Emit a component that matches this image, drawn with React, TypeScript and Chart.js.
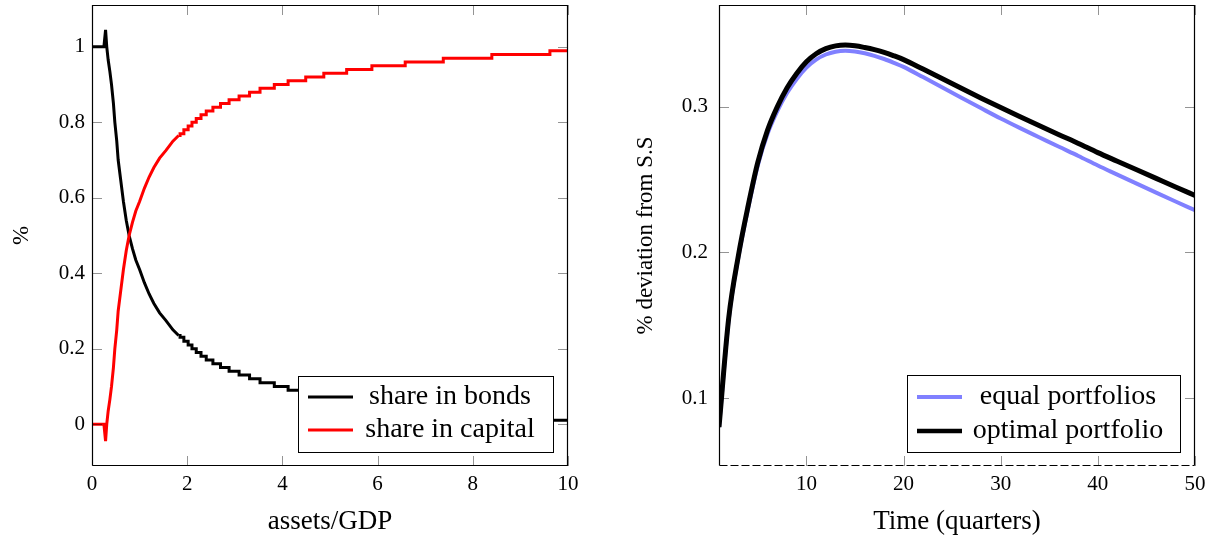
import React, { useEffect, useRef } from "react";
import { Chart, registerables } from "chart.js";

Chart.register(...registerables);

const FONT = "'Liberation Serif', 'Times New Roman', serif";

// ---------- Left chart: portfolio shares vs assets/GDP ----------
// smooth part of the curves
const smoothX = [0, 0.25, 0.285, 0.31, 0.34, 0.375, 0.41, 0.45, 0.48, 0.52, 0.55, 0.6, 0.66, 0.72, 0.78, 0.85, 0.92, 1.0, 1.1, 1.2, 1.3, 1.42, 1.55, 1.7, 1.82];
const smoothCapital = [0, 0, -0.045, 0.0, 0.035, 0.065, 0.1, 0.15, 0.2, 0.25, 0.3, 0.35, 0.41, 0.46, 0.5, 0.535, 0.565, 0.59, 0.625, 0.655, 0.68, 0.705, 0.725, 0.75, 0.765];
const smoothBonds = [1, 1, 1.045, 1.0, 0.965, 0.935, 0.9, 0.85, 0.8, 0.75, 0.7, 0.65, 0.59, 0.54, 0.5, 0.465, 0.435, 0.41, 0.375, 0.345, 0.32, 0.295, 0.275, 0.25, 0.235];
// staircase part (x where each 0.01 level begins)
const stepX = [1.82, 1.85, 1.93, 2.02, 2.1, 2.19, 2.29, 2.4, 2.54, 2.7, 2.88, 3.09, 3.31, 3.53, 3.83, 4.12, 4.49, 4.87, 5.35, 5.88, 6.58, 7.38, 8.4, 9.62, 10];
const stepCapital = [0.765, 0.77, 0.78, 0.79, 0.8, 0.81, 0.82, 0.83, 0.84, 0.85, 0.86, 0.87, 0.88, 0.89, 0.9, 0.91, 0.92, 0.93, 0.94, 0.95, 0.96, 0.97, 0.98, 0.99, 0.99];
const stepBonds = [0.235, 0.23, 0.22, 0.21, 0.2, 0.19, 0.18, 0.17, 0.16, 0.15, 0.14, 0.13, 0.12, 0.11, 0.1, 0.09, 0.08, 0.07, 0.06, 0.05, 0.04, 0.03, 0.02, 0.01, 0.01];
const leftLabels = ["share in bonds", "share in capital"];

// ---------- Right chart: impulse response ----------
const quarters = [1, 2, 3, 4, 5, 6, 7, 8, 9, 10, 11, 12, 13, 14, 15, 16, 17, 18, 19, 20, 22, 24, 26, 28, 30, 32, 34, 36, 38, 40, 42, 44, 46, 48, 50];
const equalPortfolios = [0.08, 0.154, 0.197, 0.2305, 0.26, 0.2815, 0.297, 0.3095, 0.3192, 0.327, 0.3325, 0.336, 0.3379, 0.3385, 0.338, 0.3368, 0.3351, 0.3329, 0.3303, 0.3275, 0.3205, 0.3133, 0.3061, 0.299, 0.292, 0.2854, 0.279, 0.2726, 0.2663, 0.2597, 0.2535, 0.2473, 0.2411, 0.235, 0.229];
const optimalPortfolio = [0.08, 0.155, 0.198, 0.232, 0.262, 0.284, 0.3, 0.313, 0.323, 0.331, 0.3365, 0.34, 0.3419, 0.3425, 0.342, 0.3408, 0.3393, 0.3374, 0.3351, 0.3325, 0.326, 0.3193, 0.3126, 0.306, 0.2995, 0.2932, 0.287, 0.2809, 0.2749, 0.2686, 0.2627, 0.2568, 0.2509, 0.245, 0.2392];
const rightLabels = ["equal portfolios", "optimal portfolio"];

const pts = (xs: number[], ys: number[]) => xs.map((x, i) => ({ x, y: ys[i] }));
const fmt = (v: number) => String(Number(v.toFixed(3)));

const pgfPlugin = {
  id: "pgf",
  afterDatasetsDraw(chart: any, _args: any, opts: any) {
    const { ctx, chartArea: a, scales } = chart;
    ctx.save();
    // inner tick marks on all four sides
    ctx.strokeStyle = "rgba(0,0,0,0.42)";
    ctx.lineWidth = 1;
    const L = 10;
    ctx.beginPath();
    scales.x.ticks.forEach((t: any) => {
      const p = Math.round(scales.x.getPixelForValue(t.value)) + 0.5;
      ctx.moveTo(p, a.bottom);
      ctx.lineTo(p, a.bottom - L);
      ctx.moveTo(p, a.top);
      ctx.lineTo(p, a.top + L);
    });
    scales.y.ticks.forEach((t: any) => {
      const p = Math.round(scales.y.getPixelForValue(t.value)) + 0.5;
      ctx.moveTo(a.left, p);
      ctx.lineTo(a.left + L, p);
      ctx.moveTo(a.right, p);
      ctx.lineTo(a.right - L, p);
    });
    ctx.stroke();
    // frame
    ctx.strokeStyle = "#000";
    ctx.lineWidth = 1.2;
    const l = a.left + 0.5, r = a.right - 0.5, t = a.top + 0.5, b = a.bottom - 0.5;
    ctx.beginPath();
    ctx.moveTo(l, b);
    ctx.lineTo(l, t);
    ctx.lineTo(r, t);
    ctx.lineTo(r, b);
    if (!opts.dashedBottom) ctx.lineTo(l, b);
    ctx.stroke();
    if (opts.dashedBottom) {
      ctx.setLineDash([8, 3]);
      ctx.beginPath();
      ctx.moveTo(l, b);
      ctx.lineTo(r, b);
      ctx.stroke();
      ctx.setLineDash([]);
    }
    // legend box
    const lg = opts.legend;
    const bx = a.right - lg.right - lg.w;
    const by = a.bottom - lg.bottom - lg.h;
    ctx.fillStyle = "#fff";
    ctx.fillRect(bx, by, lg.w, lg.h);
    ctx.strokeStyle = "#000";
    ctx.lineWidth = 1;
    ctx.strokeRect(Math.round(bx) + 0.5, Math.round(by) + 0.5, lg.w, lg.h);
    ctx.font = `${lg.size}px ${FONT}`;
    ctx.textAlign = "center";
    ctx.textBaseline = "middle";
    lg.items.forEach((it: any, i: number) => {
      const cy = by + lg.rows[i];
      ctx.strokeStyle = it.color;
      ctx.lineWidth = it.width;
      ctx.beginPath();
      ctx.moveTo(bx + 10, cy);
      ctx.lineTo(bx + 55, cy);
      ctx.stroke();
      ctx.fillStyle = "#000";
      ctx.fillText(it.label, bx + lg.textCenter, cy);
    });
    ctx.restore();
  },
};

const tickFont = { family: FONT, size: 21 };
const noGrid = { display: false, drawTicks: false };

function LeftChart() {
  const ref = useRef<HTMLCanvasElement>(null);
  useEffect(() => {
    const chart = new Chart(ref.current!, {
      type: "line",
      data: {
        datasets: [
          { label: leftLabels[1], data: pts(smoothX, smoothCapital), borderColor: "#ff0000", borderWidth: 3, pointRadius: 0, tension: 0, order: 0 },
          { label: leftLabels[1], data: pts(stepX, stepCapital), borderColor: "#ff0000", borderWidth: 3, pointRadius: 0, stepped: "before", order: 0 },
          { label: leftLabels[0], data: pts(smoothX, smoothBonds), borderColor: "#000", borderWidth: 3, pointRadius: 0, tension: 0, order: 1 },
          { label: leftLabels[0], data: pts(stepX, stepBonds), borderColor: "#000", borderWidth: 3, pointRadius: 0, stepped: "before", order: 1 },
        ],
      },
      options: {
        animation: false,
        responsive: false,
        devicePixelRatio: 1,
        layout: { padding: { left: 0, top: 5, right: 42, bottom: 0 } },
        plugins: {
          legend: { display: false },
          tooltip: { enabled: false },
          pgf: {
            legend: {
              w: 255, h: 76, right: 15, bottom: 14, size: 28, textCenter: 152, rows: [21, 54],
              items: [
                { label: leftLabels[0], color: "#000", width: 3 },
                { label: leftLabels[1], color: "#ff0000", width: 3 },
              ],
            },
          },
        } as any,
        scales: {
          x: {
            type: "linear", min: 0, max: 10,
            grid: noGrid, border: { display: false },
            ticks: { stepSize: 2, includeBounds: false, color: "#000", font: tickFont, padding: 6, maxRotation: 0, callback: fmt },
            title: { display: true, text: "assets/GDP", color: "#000", font: { family: FONT, size: 27 }, padding: { top: 0, bottom: 1 } },
            afterFit: (s: any) => { s.height = 73; s.paddingLeft = 0; s.paddingRight = 0; },
          },
          y: {
            type: "linear", min: -0.111, max: 1.111,
            grid: noGrid, border: { display: false },
            ticks: { stepSize: 0.2, includeBounds: false, color: "#000", font: tickFont, padding: 7, callback: fmt },
            title: { display: true, text: "%", color: "#000", font: { family: FONT, size: 23 }, padding: { top: 8, bottom: 0 } },
            afterFit: (s: any) => { s.width = 92; s.paddingTop = 0; s.paddingBottom = 0; },
          },
        },
      } as any,
      plugins: [pgfPlugin],
    });
    return () => chart.destroy();
  }, []);
  return <canvas ref={ref} width={610} height={539} style={{ display: "block" }} />;
}

function RightChart() {
  const ref = useRef<HTMLCanvasElement>(null);
  useEffect(() => {
    const chart = new Chart(ref.current!, {
      type: "line",
      data: {
        datasets: [
          { label: rightLabels[0], data: pts(quarters, equalPortfolios), borderColor: "#8080ff", borderWidth: 4, pointRadius: 0, cubicInterpolationMode: "monotone", order: 1 },
          { label: rightLabels[1], data: pts(quarters, optimalPortfolio), borderColor: "#000", borderWidth: 5, pointRadius: 0, cubicInterpolationMode: "monotone", order: 0 },
        ],
      },
      options: {
        animation: false,
        responsive: false,
        devicePixelRatio: 1,
        layout: { padding: { left: 0, top: 5, right: 26, bottom: 0 } },
        plugins: {
          legend: { display: false },
          tooltip: { enabled: false },
          pgf: {
            dashedBottom: true,
            legend: {
              w: 273, h: 77, right: 15, bottom: 14, size: 28, textCenter: 161, rows: [22, 56],
              items: [
                { label: rightLabels[0], color: "#8080ff", width: 4 },
                { label: rightLabels[1], color: "#000", width: 4.5 },
              ],
            },
          },
        } as any,
        scales: {
          x: {
            type: "linear", min: 1, max: 50,
            grid: noGrid, border: { display: false },
            ticks: { stepSize: 10, includeBounds: false, color: "#000", font: tickFont, padding: 6, maxRotation: 0, callback: fmt },
            title: { display: true, text: "Time (quarters)", color: "#000", font: { family: FONT, size: 27 }, padding: { top: 0, bottom: 1 } },
            afterFit: (s: any) => { s.height = 73; s.paddingLeft = 0; s.paddingRight = 0; },
          },
          y: {
            type: "linear", min: 0.0533, max: 0.37,
            grid: noGrid, border: { display: false },
            ticks: { stepSize: 0.1, includeBounds: false, color: "#000", font: tickFont, padding: 11, callback: fmt },
            title: { display: true, text: "% deviation from S.S", color: "#000", font: { family: FONT, size: 23 }, padding: { top: 22, bottom: 0 } },
            afterFit: (s: any) => { s.width = 109; s.paddingTop = 0; s.paddingBottom = 0; },
          },
        },
      } as any,
      plugins: [pgfPlugin],
    });
    return () => chart.destroy();
  }, []);
  return <canvas ref={ref} width={611} height={539} style={{ display: "block" }} />;
}

export default function App() {
  return (
    <div style={{ position: "absolute", left: 0, top: 0, width: 1221, height: 539, background: "#fff" }}>
      <div style={{ position: "absolute", left: 0, top: 0 }}>
        <LeftChart />
      </div>
      <div style={{ position: "absolute", left: 610, top: 0 }}>
        <RightChart />
      </div>
    </div>
  );
}
